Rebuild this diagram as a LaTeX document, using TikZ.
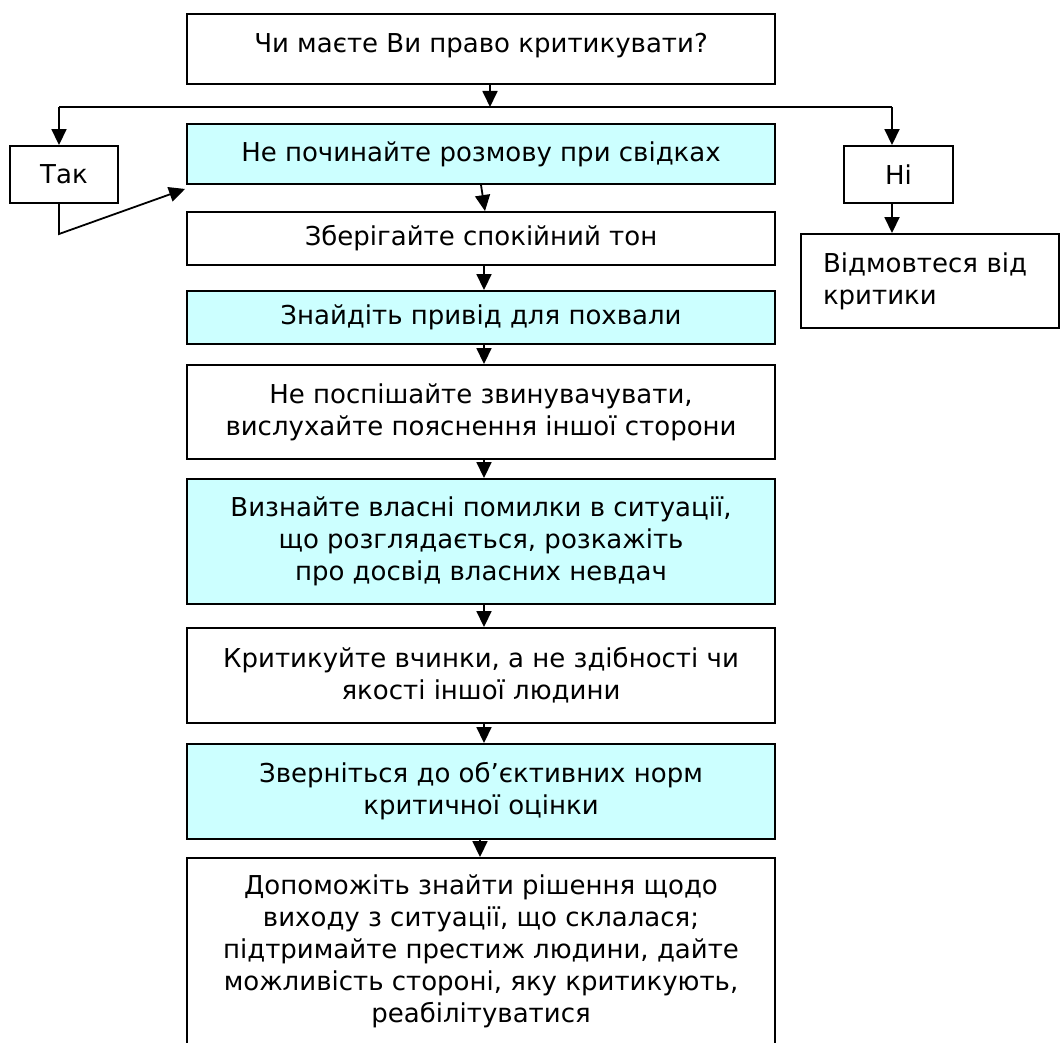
\documentclass[tikz,border=0pt]{standalone}
\usepackage{fontspec}
\setmainfont{DejaVu Sans}
\usetikzlibrary{arrows.meta,calc}
\definecolor{lightcyan}{RGB}{204,255,255}
\begin{document}
\begin{tikzpicture}[x=1pt,y=-1pt,
  box/.style={draw, line width=1.9pt, inner sep=0pt, align=center,
    minimum width=588pt, font=\fontsize{26}{32}\selectfont},
  fbox/.style={box, fill=lightcyan},
  conn/.style={line width=1.8pt},
  arr/.style={conn, -{Triangle[length=16pt,width=15pt]}}]
\useasboundingbox (0,0) rectangle (1060,1043);
% main column
\node[box, minimum height=70pt, text height=19pt, text depth=11pt] (top) at (481,49) {Чи маєте Ви право критикувати?};
\node[fbox, minimum height=60pt] (b2) at (481,154) {Не починайте розмову при свідках};
\node[box, minimum height=53pt] (b3) at (481,238.5) {Зберігайте спокійний тон};
\node[fbox, minimum height=53pt] (b4) at (481,317.5) {Знайдіть привід для похвали};
\node[box, minimum height=94pt] (b5) at (481,412) {Не поспішайте звинувачувати,\\вислухайте пояснення іншої сторони};
\node[fbox, minimum height=125pt] (b6) at (481,541.5) {Визнайте власні помилки в ситуації,\\що розглядається, розкажіть\\про досвід власних невдач};
\node[box, minimum height=95pt] (b7) at (481,675.5) {Критикуйте вчинки, а не здібності чи\\якості іншої людини};
\node[fbox, minimum height=95pt] (b8) at (481,791.5) {Зверніться до об’єктивних норм\\критичної оцінки};
\node[box, minimum height=186pt] (b9) at (481,951) {Допоможіть знайти рішення щодо\\виходу з ситуації, що склалася;\\підтримайте престиж людини, дайте\\можливість стороні, яку критикують,\\реабілітуватися};
% side boxes
\node[box, minimum width=108pt, minimum height=57pt] (tak) at (64,174.5) {Так};
\node[box, minimum width=109pt, minimum height=57pt] (ni) at (898.5,174.5) {Ні};
\node[box, minimum width=258pt, minimum height=94pt, text width=214pt, inner xsep=22pt, align=left] (ref) at (930,281) {Відмовтеся від\\критики};
% connectors
\coordinate (split) at (490,107);
\coordinate (hl) at (59,107);
\coordinate (hr) at (892,107);
\coordinate (tk) at (59,234);
\coordinate (col) at (484,0);
\draw[arr] (top.south -| split) -- (split);
\draw[conn] (hl) -- (hr);
\draw[arr] (hl) -- (hl |- tak.north);
\draw[arr] (hr) -- (hr |- ni.north);
\draw[arr] (hl |- tak.south) -- (tk) -- ($(b2.south west)+(-1,4)$);
\draw[arr] (hr |- ni.south) -- (hr |- ref.north);
\draw[arr] (b2.south) -- ($(b3.north)+(4,0)$);
\draw[arr] (b3.south -| col) -- (b4.north -| col);
\draw[arr] (b4.south -| col) -- (b5.north -| col);
\draw[arr] (b5.south -| col) -- (b6.north -| col);
\draw[arr] (b6.south -| col) -- (b7.north -| col);
\draw[arr] (b7.south -| col) -- (b8.north -| col);
\draw[arr] ($(b8.south)+(-1,0)$) -- ($(b9.north)+(-1,0)$);
\end{tikzpicture}
\end{document}
